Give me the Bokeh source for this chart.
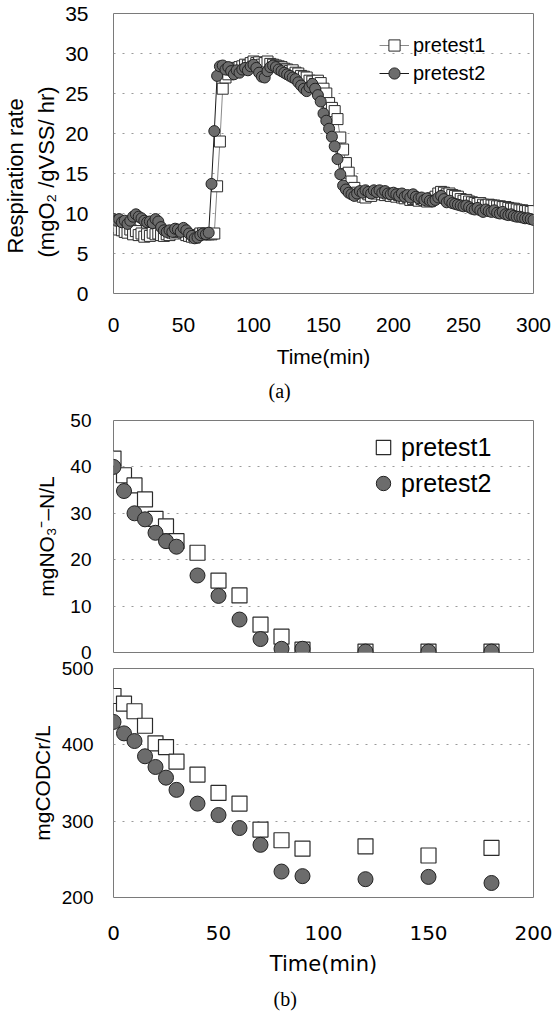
from bokeh.plotting import figure
from bokeh.layouts import column
from bokeh.models import Legend, LegendItem, Title, Range1d
from bokeh.embed import file_html
from bokeh.resources import INLINE

FONT = "Liberation Sans"

# ---------------- data ----------------
t_resp = list(range(0, 301, 2))
resp_pretest1 = [
    8.8, 8.3, 8.0, 7.9, 7.7, 7.6, 8.0, 7.4, 7.8, 7.3,
    7.5, 7.1, 7.4, 7.2, 7.6, 7.4, 7.5, 7.3, 7.2, 7.4,
    7.3, 7.6, 7.5, 7.7, 7.8, 7.6, 7.3, 7.2, 7.1, 7.0,
    7.3, 7.5, 7.5, 7.4, 7.4, 7.4, 7.5, 13.4, 19.0, 25.6,
    27.0, 27.4, 28.0, 28.2, 28.0, 28.3, 28.4, 28.6, 28.5, 28.8,
    29.0, 28.8, 28.9, 28.6, 28.8, 29.0, 28.7, 28.6, 28.5, 28.4,
    28.3, 28.1, 28.0, 27.8, 27.9, 27.6, 27.5, 27.2, 27.1, 27.0,
    26.6, 26.5, 26.2, 26.6, 26.3, 25.6, 25.0, 23.8, 23.2, 22.8,
    21.8, 19.5, 18.0, 16.3, 15.1, 14.0, 13.2, 12.6, 12.3, 12.1,
    12.0, 12.4, 12.2, 12.6, 12.5, 12.7, 12.4, 12.3, 12.5, 12.2,
    12.4, 12.1, 12.3, 12.0, 11.9, 12.1, 11.7, 11.8, 11.9, 11.6,
    11.8, 11.7, 11.5, 11.6, 11.9, 12.1, 12.5, 12.7, 12.6, 12.4,
    12.5, 12.3, 12.2, 12.1, 11.8, 11.6, 11.7, 11.5, 11.4, 11.3,
    11.2, 11.3, 11.1, 11.0, 11.1, 11.0, 11.0, 10.9, 10.9, 10.8,
    10.8, 10.7, 10.6, 10.6, 10.5, 10.4, 10.4, 10.3, 10.3, 10.2,
    10.3,
]
resp_pretest2 = [
    9.3, 9.1, 9.3, 8.9, 9.1, 8.7, 9.1, 9.6, 9.9, 9.6,
    9.4, 9.1, 8.9, 9.0, 8.8, 9.3, 9.0, 8.3, 7.9, 7.7,
    7.9, 7.7, 8.1, 8.0, 7.7, 8.2, 7.9, 7.5, 7.2, 6.9,
    7.0, 7.3, 7.5, 7.4, 7.6, 13.7, 20.3, 27.2, 28.4, 28.5,
    28.0, 28.3, 27.8, 27.4, 27.9, 27.6, 28.0, 28.2, 27.9, 28.4,
    28.6, 28.2, 27.6, 27.1, 27.0, 27.8, 28.3, 28.5, 28.3, 28.0,
    27.8, 27.6, 27.4, 27.2, 27.0, 26.8, 26.4, 26.0, 25.6, 25.3,
    25.8, 26.2, 25.6, 24.8, 24.0, 22.5, 21.6, 20.6, 19.6, 18.4,
    16.8, 14.9, 13.5, 13.0, 12.6, 12.4, 12.2, 12.5, 12.8, 12.6,
    12.9, 12.7, 12.5, 12.9, 12.7, 12.9, 12.6, 12.8, 12.5, 12.4,
    12.6, 12.4, 12.2, 12.5, 12.1, 12.3, 12.0, 12.4, 12.1, 11.9,
    12.0, 11.7, 11.9, 11.6, 11.5, 11.7, 12.0, 12.2, 11.8, 11.4,
    11.6, 11.3, 11.2, 11.1, 11.0, 10.9, 11.0, 10.8, 10.6, 10.5,
    10.7, 10.4, 10.2, 10.5, 10.3, 10.2, 10.4, 10.1, 10.0, 10.2,
    9.9, 9.8, 9.9, 9.7, 9.6, 9.6, 9.5, 9.4, 9.4, 9.3,
    9.2,
]

t_batch = [0, 5, 10, 15, 20, 25, 30, 40, 50, 60, 70, 80, 90, 120, 150, 180]
no3_pretest1 = [41.8, 38.2, 36.0, 33.0, 28.8, 27.2, 24.0, 21.5, 15.5, 12.3, 6.0, 3.4, 0.6, 0.2, 0.2, 0.2]
no3_pretest2 = [40.0, 34.8, 30.0, 28.7, 25.8, 24.0, 22.8, 16.6, 12.2, 7.1, 2.9, 0.8, 0.8, 0.2, 0.2, 0.2]
cod_pretest1 = [464, 454, 444, 425, 402, 397, 378, 361, 337, 323, 289, 275, 264, 267, 255, 265]
cod_pretest2 = [430, 415, 405, 385, 371, 357, 341, 323, 308, 291, 269, 234, 228, 224, 227, 219]

resp_yticks = [0, 5, 10, 15, 20, 25, 30, 35]
resp_xticks = [0, 50, 100, 150, 200, 250, 300]
no3_yticks = [0, 10, 20, 30, 40, 50]
cod_yticks = [200, 300, 400, 500]
batch_xticks = [0, 50, 100, 150, 200]

# ---------------- styles ----------------
SQ_LINE = "#2b2b2b"
CIRC_FILL = "#6c6c6c"
CIRC_LINE = "#222222"


def style(p, yticks, xticks=None, tick_size="20px"):
    p.outline_line_color = "#7a7a7a"
    p.outline_line_width = 1
    p.xgrid.visible = False
    p.ygrid.grid_line_color = "#9a9a9a"
    p.ygrid.grid_line_dash = "2 7"
    p.yaxis.ticker = yticks
    if xticks is not None:
        p.xaxis.ticker = xticks
    for ax in p.axis:
        ax.axis_line_color = None
        ax.major_tick_line_color = None
        ax.minor_tick_line_color = None
        ax.major_tick_out = 0
        ax.major_tick_in = 0
        ax.major_label_text_font = FONT
        ax.major_label_text_font_size = tick_size
        ax.major_label_text_color = "#000000"
        ax.axis_label_text_font = FONT
        ax.axis_label_text_font_style = "normal"
        ax.axis_label_text_font_size = "21px"
        ax.axis_label_text_color = "#000000"


# ---------------- (a) respiration ----------------
p1 = figure(width=555, height=410, output_backend="svg", toolbar_location=None,
            x_range=Range1d(0, 300), y_range=Range1d(0, 35),
            min_border_left=111, min_border_right=20, min_border_top=13,
            min_border_bottom=117)
style(p1, resp_yticks, resp_xticks, tick_size="21px")
p1.yaxis.major_label_standoff = 25
p1.xaxis.major_label_standoff = 24
p1.xaxis.axis_label = "Time(min)"
p1.xaxis.axis_label_standoff = 10

# two-line y label, placed as vertical titles so it sits a little low like the original
ylab2 = Title(text="(mgO\u2082 /gVSS/ hr)", align="left", offset=36, standoff=8,
              text_font=FONT, text_font_size="22px", text_font_style="normal",
              text_color="#000000")
ylab1 = Title(text="Respiration rate", align="left", offset=40, standoff=0,
              text_font=FONT, text_font_size="22px", text_font_style="normal",
              text_color="#000000")
p1.add_layout(ylab2, "left")
p1.add_layout(ylab1, "left")

l1 = p1.line(t_resp, resp_pretest1, line_color="#8a8a8a", line_width=1)
s1 = p1.scatter(t_resp, resp_pretest1, marker="square", size=11,
                fill_color="white", line_color=SQ_LINE, line_width=1)
l2 = p1.line(t_resp, resp_pretest2, line_color="#1a1a1a", line_width=1)
s2 = p1.scatter(t_resp, resp_pretest2, marker="circle", size=11,
                fill_color=CIRC_FILL, line_color=CIRC_LINE, line_width=1)

leg1 = Legend(items=[LegendItem(label="pretest1", renderers=[l1, s1]),
                     LegendItem(label="pretest2", renderers=[l2, s2])],
              location=(266, 206), border_line_color=None, background_fill_alpha=0,
              padding=0, margin=0, spacing=0, glyph_width=30, glyph_height=28,
              label_height=28, label_standoff=4,
              label_text_font=FONT, label_text_font_size="20px",
              label_text_color="#000000")
p1.add_layout(leg1)

cap_a = Title(text="(a)", align="left", offset=155, standoff=14,
              text_font="Liberation Serif", text_font_size="20px",
              text_font_style="normal", text_color="#000000")
p1.add_layout(cap_a, "below")

# ---------------- (b) nitrate ----------------
p2 = figure(width=555, height=249, output_backend="svg", toolbar_location=None,
            x_range=Range1d(0, 200), y_range=Range1d(0, 50),
            x_axis_location=None,
            min_border_left=92, min_border_right=22, min_border_top=10,
            min_border_bottom=7)
style(p2, no3_yticks, tick_size="19px")
p2.yaxis.major_label_standoff = 22
p2.yaxis.axis_label = "mgNO\u2083\u207b\u2013N/L"
p2.yaxis.axis_label_standoff = 9

ns1 = p2.scatter(t_batch, no3_pretest1, marker="square", size=15,
                 fill_color="white", line_color=SQ_LINE, line_width=1.2)
ns2 = p2.scatter(t_batch, no3_pretest2, marker="circle", size=15,
                 fill_color=CIRC_FILL, line_color=CIRC_LINE, line_width=1)

leg2 = Legend(items=[LegendItem(label="pretest1", renderers=[ns1]),
                     LegendItem(label="pretest2", renderers=[ns2])],
              location=(252, 151), border_line_color=None, background_fill_alpha=0,
              padding=0, margin=0, spacing=-5, glyph_width=36, glyph_height=36,
              label_height=36, label_standoff=0,
              label_text_font=FONT, label_text_font_size="25px",
              label_text_color="#000000")
p2.add_layout(leg2)

# ---------------- (b) COD ----------------
p3 = figure(width=555, height=357, output_backend="svg", toolbar_location=None,
            x_range=p2.x_range, y_range=Range1d(200, 500),
            min_border_left=92, min_border_right=22, min_border_top=9,
            min_border_bottom=116)
style(p3, cod_yticks, batch_xticks, tick_size="19px")
p3.yaxis.major_label_standoff = 20
p3.yaxis.axis_label = "mgCODCr/L"
p3.yaxis.axis_label_standoff = 5
p3.xaxis.major_label_standoff = 28
p3.xaxis.major_label_text_font = "DejaVu Sans"
p3.xaxis.major_label_text_font_size = "20px"
p3.xaxis.axis_label = "Time(min)"
p3.xaxis.axis_label_text_font = "DejaVu Sans"
p3.xaxis.axis_label_text_font_size = "21px"
p3.xaxis.axis_label_standoff = 9

p3.scatter(t_batch, cod_pretest1, marker="square", size=15,
           fill_color="white", line_color=SQ_LINE, line_width=1.2)
p3.scatter(t_batch, cod_pretest2, marker="circle", size=15,
           fill_color=CIRC_FILL, line_color=CIRC_LINE, line_width=1)

cap_b = Title(text="(b)", align="left", offset=160, standoff=14,
              text_font="Liberation Serif", text_font_size="20px",
              text_font_style="normal", text_color="#000000")
p3.add_layout(cap_b, "below")

layout = column(p1, p2, p3, spacing=0)
open("out.html", "w").write(file_html(layout, INLINE))
